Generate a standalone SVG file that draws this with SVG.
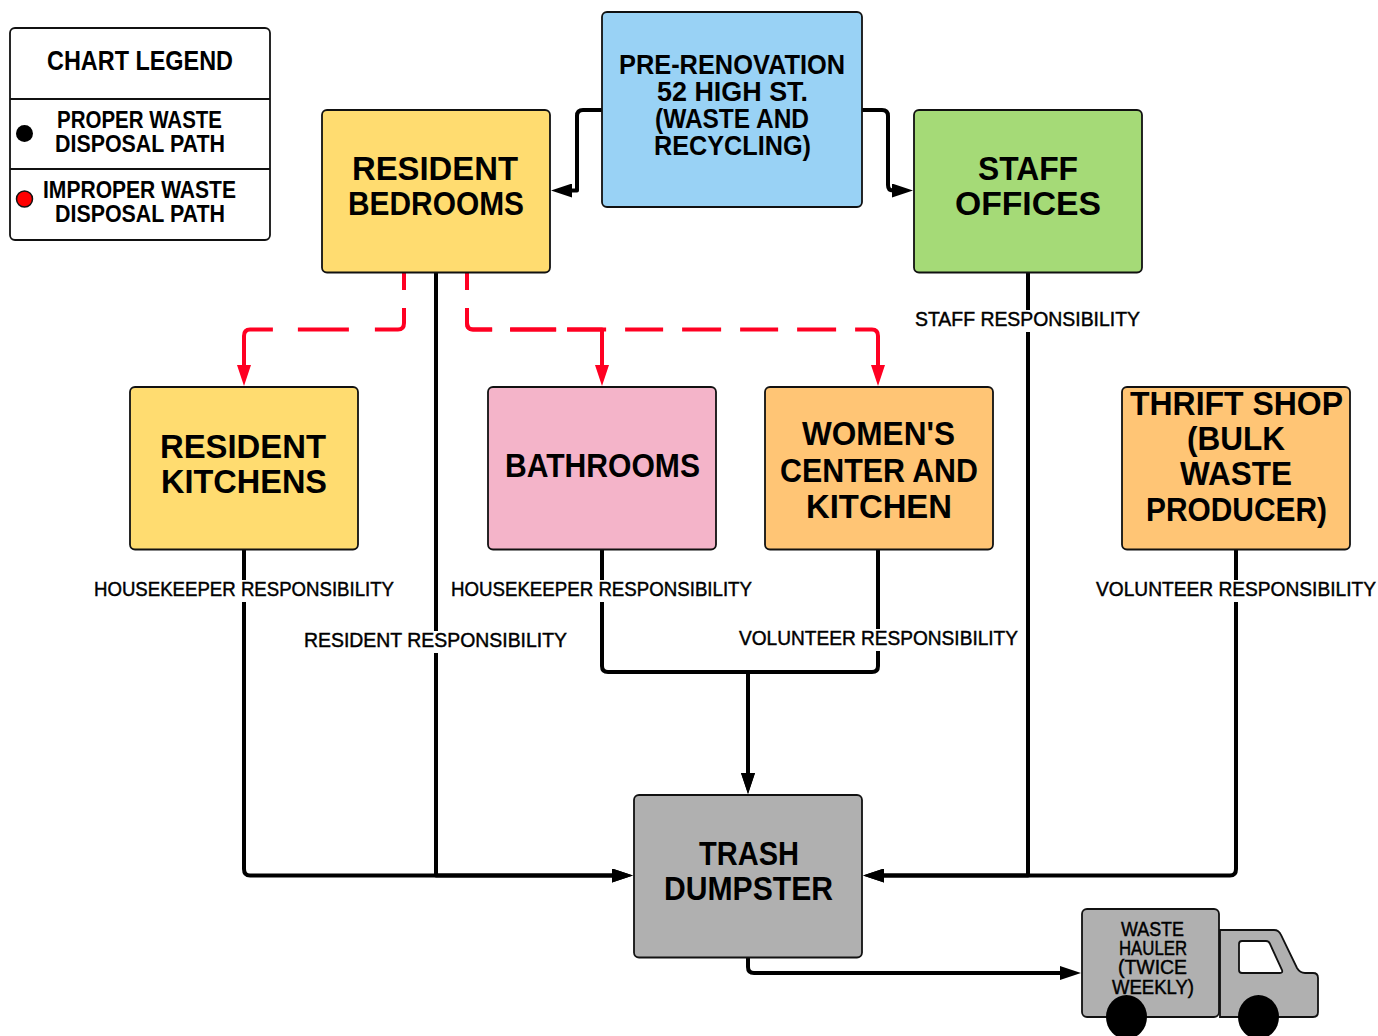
<svg xmlns="http://www.w3.org/2000/svg" width="1378" height="1036" viewBox="0 0 1378 1036">
<style>
text{font-family:"Liberation Sans",Arial,sans-serif;font-weight:700;fill:#000}
.b{stroke:#111;stroke-width:1.8}
.xl{font-size:34px}.l{font-size:27px}.m{font-size:23px}.s{font-size:20px;font-weight:400;stroke:#000;stroke-width:.45}.t{font-size:20px;font-weight:400;stroke:#000;stroke-width:.45}
.c{fill:none;stroke:#000;stroke-width:4;stroke-linejoin:round}
.r{fill:none;stroke:#ff0022;stroke-width:4;stroke-linejoin:round}
.w{fill:#fff}
</style>
<defs>
<marker id="a" markerUnits="userSpaceOnUse" markerWidth="22" markerHeight="14" refX="1" refY="7" orient="auto"><path d="M0 0L21 7L0 14Z" fill="#000"/></marker>
<marker id="ar" markerUnits="userSpaceOnUse" markerWidth="22" markerHeight="14" refX="1" refY="7" orient="auto"><path d="M0 0L21 7L0 14Z" fill="#ff0022"/></marker>
</defs>
<g id="connectors">
<path class="c" marker-end="url(#a)" d="M602 110H583Q577 110 577 116V190.500H571"/>
<path class="c" marker-end="url(#a)" d="M862 110H882Q888 110 888 116V185Q888 190.500 893 190.500"/>
<path class="c" marker-end="url(#a)" d="M244 549V869Q244 875.500 250 875.500H613"/>
<path class="c" marker-end="url(#a)" d="M436 273V875.500H613"/>
<path class="c" marker-end="url(#a)" d="M602 549V666Q602 672 608 672H748V774"/>
<path class="c" marker-end="url(#a)" d="M878 549V666Q878 672 872 672H748V774"/>
<path class="c" marker-end="url(#a)" d="M1028 273V875.500H883"/>
<path class="c" marker-end="url(#a)" d="M1236 549V869Q1236 875.500 1230 875.500H883"/>
<path class="c" marker-end="url(#a)" d="M748 957V967Q748 973 754 973H1061"/>
<path class="r" marker-end="url(#ar)" stroke-dasharray="17 18 48 26 51 25 300" d="M404 273V323Q404 329.500 398 329.500H250Q244 329.500 244 336V366"/>
<path class="r" marker-end="url(#ar)" stroke-dasharray="17 18 44 18 46 11 300" d="M467 273V323Q467 329.500 473 329.500H602V366"/>
<path class="r" marker-end="url(#ar)" stroke-dasharray="17 18 44 18 46 11 39 19 38 19 39 19 38 19 39 19 300" d="M467 273V323Q467 329.500 473 329.500H872Q878 329.500 878 336V366"/>
<g id="edge-labels">
<rect class="w" x="915" y="310" width="225" height="22"/><text class="s" x="915" y="326" textLength="225" lengthAdjust="spacingAndGlyphs">STAFF RESPONSIBILITY</text>
<rect class="w" x="94" y="580" width="300" height="22"/><text class="s" x="94" y="596" textLength="300" lengthAdjust="spacingAndGlyphs">HOUSEKEEPER RESPONSIBILITY</text>
<rect class="w" x="451" y="580" width="301" height="22"/><text class="s" x="451" y="596" textLength="301" lengthAdjust="spacingAndGlyphs">HOUSEKEEPER RESPONSIBILITY</text>
<rect class="w" x="1096" y="580" width="280" height="22"/><text class="s" x="1096" y="596" textLength="280" lengthAdjust="spacingAndGlyphs">VOLUNTEER RESPONSIBILITY</text>
<rect class="w" x="304" y="631" width="263" height="22"/><text class="s" x="304" y="647" textLength="263" lengthAdjust="spacingAndGlyphs">RESIDENT RESPONSIBILITY</text>
<rect class="w" x="739" y="629" width="279" height="22"/><text class="s" x="739" y="645" textLength="279" lengthAdjust="spacingAndGlyphs">VOLUNTEER RESPONSIBILITY</text>
</g>
</g>
<g id="legend">
<rect class="b" x="10" y="28" width="260" height="212" rx="5" fill="#fff"/>
<path class="b" fill="none" d="M10 99H270M10 169H270"/>
<circle cx="24.500" cy="133.500" r="8.500" fill="#000"/>
<circle cx="24.500" cy="199" r="8" fill="#ff0000" stroke="#111" stroke-width="1.500"/>
<text class="m" style="font-size:27px" x="47" y="69.500" textLength="186" lengthAdjust="spacingAndGlyphs">CHART LEGEND</text>
<text class="m" x="57" y="128" textLength="165" lengthAdjust="spacingAndGlyphs">PROPER WASTE</text>
<text class="m" x="55" y="151.500" textLength="170" lengthAdjust="spacingAndGlyphs">DISPOSAL PATH</text>
<text class="m" x="43" y="198" textLength="193" lengthAdjust="spacingAndGlyphs">IMPROPER WASTE</text>
<text class="m" x="55" y="222" textLength="170" lengthAdjust="spacingAndGlyphs">DISPOSAL PATH</text>
</g>
<g id="pre-renovation">
<rect class="b" x="602" y="12" width="260" height="195" rx="5" fill="#99d2f5"/>
<text class="l" x="619" y="74" textLength="226" lengthAdjust="spacingAndGlyphs">PRE-RENOVATION</text>
<text class="l" x="657" y="101" textLength="151" lengthAdjust="spacingAndGlyphs">52 HIGH ST.</text>
<text class="l" x="655" y="128" textLength="154" lengthAdjust="spacingAndGlyphs">(WASTE AND</text>
<text class="l" x="654" y="155" textLength="157" lengthAdjust="spacingAndGlyphs">RECYCLING)</text>
</g>
<g id="resident-bedrooms">
<rect class="b" x="322" y="110" width="228" height="162.500" rx="5" fill="#ffdc70"/>
<text class="xl" x="352" y="179.500" textLength="166" lengthAdjust="spacingAndGlyphs">RESIDENT</text>
<text class="xl" x="348" y="214.500" textLength="176" lengthAdjust="spacingAndGlyphs">BEDROOMS</text>
</g>
<g id="staff-offices">
<rect class="b" x="914" y="110" width="228" height="162.500" rx="5" fill="#a5da77"/>
<text class="xl" x="978" y="179.500" textLength="100" lengthAdjust="spacingAndGlyphs">STAFF</text>
<text class="xl" x="955" y="214.500" textLength="146" lengthAdjust="spacingAndGlyphs">OFFICES</text>
</g>
<g id="resident-kitchens">
<rect class="b" x="130" y="387" width="228" height="162.500" rx="5" fill="#ffdc70"/>
<text class="xl" x="160" y="457.500" textLength="166" lengthAdjust="spacingAndGlyphs">RESIDENT</text>
<text class="xl" x="161" y="492.500" textLength="166" lengthAdjust="spacingAndGlyphs">KITCHENS</text>
</g>
<g id="bathrooms">
<rect class="b" x="488" y="387" width="228" height="162.500" rx="5" fill="#f4b4c9"/>
<text class="xl" x="505" y="477" textLength="195" lengthAdjust="spacingAndGlyphs">BATHROOMS</text>
</g>
<g id="womens-center">
<rect class="b" x="765" y="387" width="228" height="162.500" rx="5" fill="#ffc575"/>
<text class="xl" x="802" y="445" textLength="153" lengthAdjust="spacingAndGlyphs">WOMEN'S</text>
<text class="xl" x="780" y="481.500" textLength="198" lengthAdjust="spacingAndGlyphs">CENTER AND</text>
<text class="xl" x="806" y="517.500" textLength="146" lengthAdjust="spacingAndGlyphs">KITCHEN</text>
</g>
<g id="thrift-shop">
<rect class="b" x="1122" y="387" width="228" height="162.500" rx="5" fill="#ffc575"/>
<text class="xl" x="1130" y="415" textLength="213" lengthAdjust="spacingAndGlyphs">THRIFT SHOP</text>
<text class="xl" x="1187" y="450" textLength="98" lengthAdjust="spacingAndGlyphs">(BULK</text>
<text class="xl" x="1180" y="485" textLength="112" lengthAdjust="spacingAndGlyphs">WASTE</text>
<text class="xl" x="1146" y="520.500" textLength="181" lengthAdjust="spacingAndGlyphs">PRODUCER)</text>
</g>
<g id="trash-dumpster">
<rect class="b" x="634" y="795" width="228" height="162.500" rx="5" fill="#b0b0b0"/>
<text class="xl" x="699" y="865" textLength="100" lengthAdjust="spacingAndGlyphs">TRASH</text>
<text class="xl" x="664" y="900" textLength="169" lengthAdjust="spacingAndGlyphs">DUMPSTER</text>
</g>
<g id="waste-hauler">
<path class="b" fill="#b0b0b0" d="M1220 930H1274Q1279 930 1281 935L1297 968Q1300 973 1305 973H1313Q1318 973 1318 978V1012Q1318 1017 1313 1017H1220Z"/>
<path class="b" fill="#fff" d="M1242 941H1266Q1269 941 1270 944L1282 970Q1283 973 1280 973H1242Q1239 973 1239 970V944Q1239 941 1242 941Z"/>
<rect class="b" x="1082" y="909" width="137" height="108" rx="5" fill="#b0b0b0"/>
<ellipse cx="1126.500" cy="1017" rx="20.500" ry="22" fill="#000"/>
<ellipse cx="1258.500" cy="1017" rx="20.500" ry="22" fill="#000"/>
<text class="t" x="1121" y="936" textLength="63" lengthAdjust="spacingAndGlyphs">WASTE</text>
<text class="t" x="1119" y="955" textLength="68" lengthAdjust="spacingAndGlyphs">HAULER</text>
<text class="t" x="1118" y="974" textLength="69" lengthAdjust="spacingAndGlyphs">(TWICE</text>
<text class="t" x="1112" y="994" textLength="82" lengthAdjust="spacingAndGlyphs">WEEKLY)</text>
</g>
</svg>
